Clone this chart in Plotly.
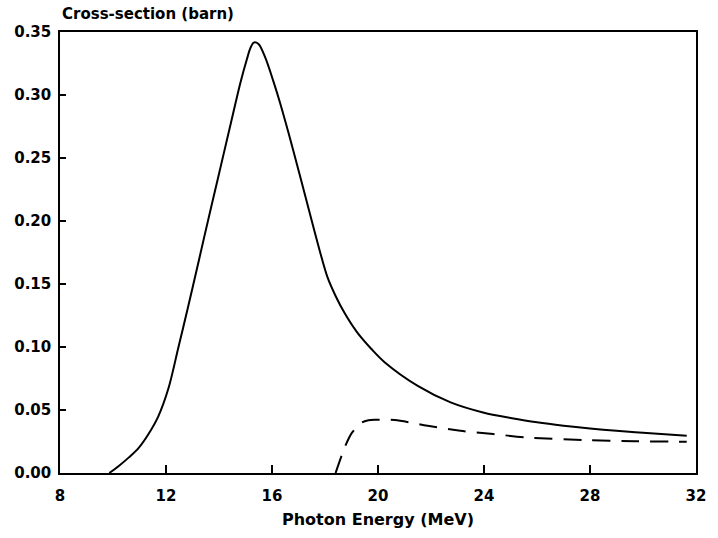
import plotly.graph_objects as go

# Total photoabsorption cross-section (solid)
energy_total = [9.86, 10.23, 10.6, 10.97, 11.34, 11.71, 12.09, 12.46, 12.83, 13.2,
                13.45, 13.95, 14.44, 14.81, 15.06, 15.18, 15.31, 15.49, 15.74, 16.05,
                16.3, 16.79, 17.29, 17.78, 18.1, 18.4, 18.75, 19.2, 19.76, 20.26, 21.5,
                22.74, 24.0, 25.0, 26.0, 27.0, 28.0, 29.0, 30.0, 31.65]
sigma_total = [0.0, 0.0058, 0.0124, 0.020, 0.031, 0.045, 0.067, 0.099, 0.1315, 0.165,
               0.188, 0.233, 0.277, 0.310, 0.329, 0.337, 0.3416, 0.3405, 0.330, 0.311,
               0.294, 0.257, 0.217, 0.178, 0.155, 0.1405, 0.1265, 0.112, 0.0982, 0.0877,
               0.0691, 0.056, 0.0478, 0.0437, 0.0402, 0.0375, 0.0353, 0.0335, 0.0320, 0.0296]

# Second channel (dashed)
energy_second = [18.4, 18.77, 19.02, 19.39, 19.64, 19.89, 20.63, 21.87, 23.11, 24.35,
                 25.58, 27.81, 29.7, 31.65]
sigma_second = [0.0, 0.0216, 0.032, 0.040, 0.0418, 0.0422, 0.042, 0.0375, 0.0335, 0.0309,
                0.0283, 0.0261, 0.0252, 0.0248]

x_ticks = [8, 12, 16, 20, 24, 28, 32]
y_ticks = [0.0, 0.05, 0.10, 0.15, 0.20, 0.25, 0.30, 0.35]

font = dict(family="DejaVu Sans, sans-serif", size=15, color="black", weight="bold")
xtitle_font = dict(family="DejaVu Sans, sans-serif", size=16, color="black", weight="bold")

fig = go.Figure()
fig.add_trace(go.Scatter(x=energy_total, y=sigma_total, mode="lines",
                         line=dict(color="black", width=2, shape="spline", smoothing=0.9),
                         showlegend=False))
fig.add_trace(go.Scatter(x=energy_second, y=sigma_second, mode="lines",
                         line=dict(color="black", width=2, shape="spline", smoothing=0.8,
                                   dash="18px,11px"),
                         showlegend=False))

fig.update_layout(
    width=718, height=538,
    margin=dict(l=60, r=12, t=32, b=64),
    paper_bgcolor="white", plot_bgcolor="white",
    font=font,
    xaxis=dict(range=[8, 32], tickvals=x_ticks, ticktext=[str(v) for v in x_ticks],
               ticks="inside", ticklen=8, tickwidth=1.5, tickcolor="black",
               ticklabelstandoff=8,
               showline=True, linecolor="black", linewidth=1.5, mirror=True,
               showgrid=False, zeroline=False,
               title=dict(text="Photon Energy (MeV)", font=xtitle_font, standoff=10)),
    yaxis=dict(range=[0, 0.35], tickvals=y_ticks, ticktext=[f"{v:.2f}" for v in y_ticks],
               ticks="inside", ticklen=6, tickwidth=1.5, tickcolor="black",
               ticklabelstandoff=4,
               showline=True, linecolor="black", linewidth=1.5, mirror=True,
               showgrid=False, zeroline=False),
    annotations=[dict(text="Cross-section (barn)", xref="paper", yref="paper",
                      x=0, y=1, xanchor="left", yanchor="bottom", yshift=7,
                      showarrow=False, font=font)],
)

fig.write_html("out.html")
